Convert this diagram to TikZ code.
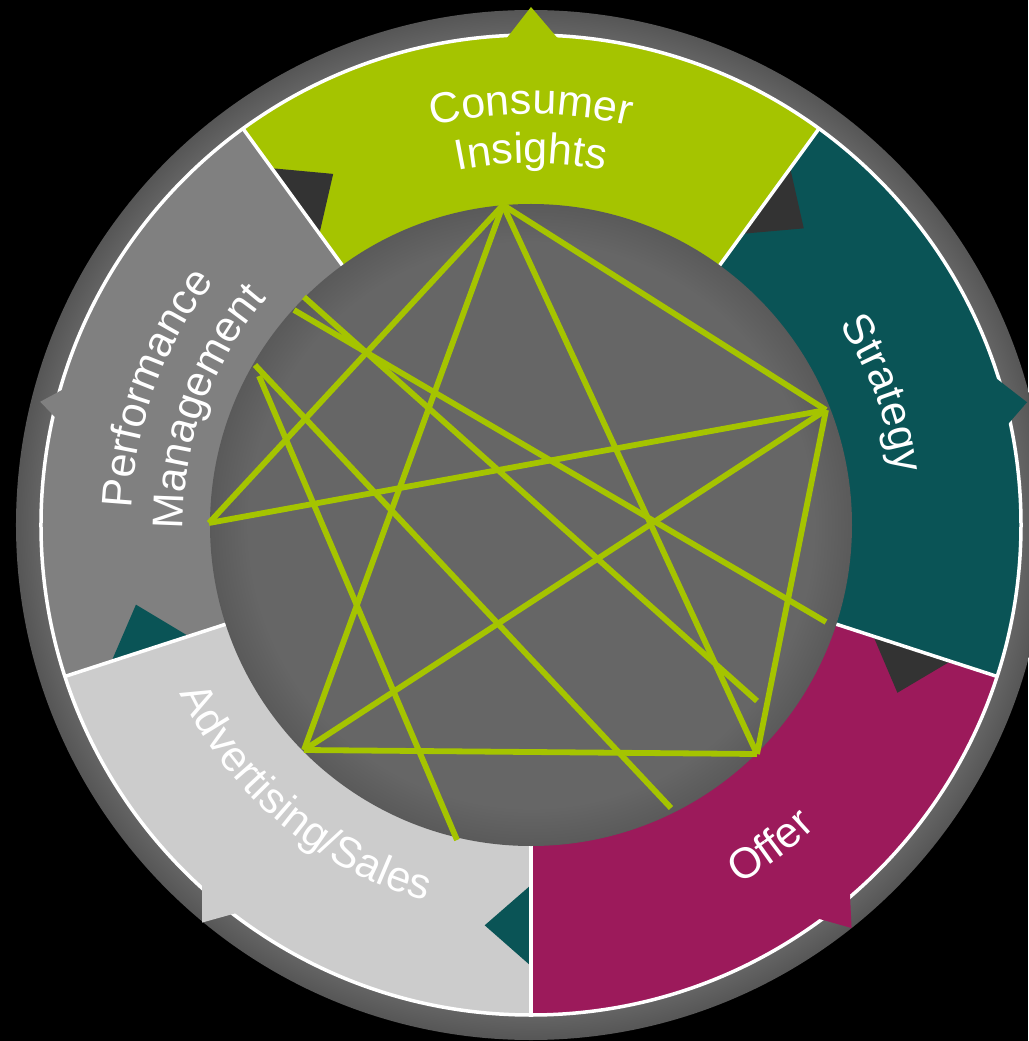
\documentclass[tikz,border=0pt]{standalone}
\usepackage{fontspec}
\setmainfont{Liberation Sans}
\usetikzlibrary{decorations.text}
\definecolor{cgreen}{HTML}{A5C400}
\definecolor{cteal}{HTML}{0A5456}
\definecolor{cmag}{HTML}{9C1A5B}
\definecolor{clight}{HTML}{CCCCCC}
\definecolor{cmid}{HTML}{808080}
\definecolor{cring}{HTML}{676767}
\definecolor{cringedge}{HTML}{565656}
\definecolor{cinner}{HTML}{666666}
\definecolor{cinneredge}{HTML}{5A5A5A}
\definecolor{cdark}{HTML}{333333}
\pgfdeclareradialshading{innersh}{\pgfpointorigin}{color(0bp)=(cinner); color(22bp)=(cinner); color(25bp)=(cinneredge); color(50bp)=(cinneredge)}
\pgfdeclareradialshading{ringsh}{\pgfpointorigin}{color(0bp)=(cring); color(23.6bp)=(cring); color(25bp)=(cringedge); color(50bp)=(cringedge)}
\newcommand\lblfont{\fontsize{43}{50}\selectfont}
\begin{document}
\begin{tikzpicture}[x=1pt,y=1pt,
  sep/.style={white, line width=3.5pt},
  link/.style={cgreen, line width=5.8pt},
  lbl/.style={decorate, decoration={text along path, text align=center, text color=white, text={#1}}}
]
\useasboundingbox (-531,-516) rectangle (497,525);
\fill[black] (-531,-516) rectangle (497,525);
\shade[shading=ringsh] (0,0) circle[radius=515pt];
% segments
\fill[cgreen] (0,0) -- (126:490pt) arc[start angle=126,end angle=54,radius=490pt] -- cycle;
\fill[cteal] (0,0) -- (54:490pt) arc[start angle=54,end angle=-18,radius=490pt] -- cycle;
\fill[cmag] (0,0) -- (-18:490pt) arc[start angle=-18,end angle=-90,radius=490pt] -- cycle;
\fill[clight] (0,0) -- (-90:490pt) arc[start angle=-90,end angle=-162,radius=490pt] -- cycle;
\fill[cmid] (0,0) -- (198:490pt) arc[start angle=198,end angle=126,radius=490pt] -- cycle;
% arrowheads at the boundaries
\fill[cdark] (126:360pt) -- (126:441pt) -- (119.4:403pt) -- cycle;
\fill[cdark] (54:360pt) -- (54:441pt) -- (47.4:403pt) -- cycle;
\fill[cdark] (-18:360pt) -- (-18:441pt) -- (-24.6:403pt) -- cycle;
\fill[cteal] (198:360pt) -- (198:441pt) -- (191.4:403pt) -- cycle;
\fill[cteal] (-90:360pt) -- (-90:441pt) -- (-96.6:403pt) -- cycle;
% white separators
\draw[sep] (0,0) circle[radius=490pt];
\foreach \a in {126,54,-18,-90,198} \draw[sep] (0,0) -- (\a:490pt);
% outer bumps
\fill[cgreen] (93:486pt) -- (90:518pt) -- (86.7:486pt) -- cycle;
\fill[cteal] (17.8:486pt) -- (13.9:511pt) -- (11.8:486pt) -- cycle;
\fill[cmid] (163.7:486pt) -- (165.9:506pt) -- (167.4:486pt) -- cycle;
\fill[clight] (-132.6:486pt) -- (-129.6:516pt) -- (-127.1:486pt) -- cycle;
\fill[cmag] (-49.0:486pt) -- (-51.5:515pt) -- (-54.0:486pt) -- cycle;
% inner circle
\shade[shading=innersh] (0,0) circle[radius=321pt];
% link points
\coordinate (A) at (-28,320);
\coordinate (B) at (295,115);
\coordinate (C) at (226,-229);
\coordinate (D) at (-227,-225);
\coordinate (E) at (-322,2);
\coordinate (P1) at (-237,215);
\coordinate (P2) at (295,-97);
\coordinate (P3) at (-227,228);
\coordinate (P4) at (226,-176);
\coordinate (P5) at (-276,160);
\coordinate (P6) at (140,-283);
\coordinate (P7) at (-272,149);
\coordinate (P8) at (-74,-315);
\draw[link] (A) -- (D);
\draw[link] (A) -- (C);
\draw[link] (A) -- (B);
\draw[link] (A) -- (E);
\draw[link] (E) -- (B);
\draw[link] (B) -- (D);
\draw[link] (B) -- (C);
\draw[link] (D) -- (C);
\draw[link] (P1) -- (P2);
\draw[link] (P3) -- (P4);
\draw[link] (P5) -- (P6);
\draw[link] (P7) -- (P8);
% labels
\path[lbl={|\lblfont|Consumer}] (140:411pt) arc[start angle=140,end angle=40,radius=411pt];
\path[lbl={|\lblfont|Insights}] (140:362pt) arc[start angle=140,end angle=40,radius=362pt];
\path[lbl={|\lblfont|Strategy}] (70.5:368pt) arc[start angle=70.5,end angle=-29.5,radius=368pt];
\path[lbl={|\lblfont|Performance}] (210:400pt) arc[start angle=210,end angle=110,radius=400pt];
\path[lbl={|\lblfont|Management}] (210:348pt) arc[start angle=210,end angle=110,radius=348pt];
\path[lbl={|\lblfont|Advertising/Sales}] (-180:390pt) arc[start angle=-180,end angle=-80,radius=390pt];
\path[lbl={|\lblfont|Offer}] (-103.3:415pt) arc[start angle=-103.3,end angle=-3.3,radius=415pt];
\end{tikzpicture}
\end{document}
